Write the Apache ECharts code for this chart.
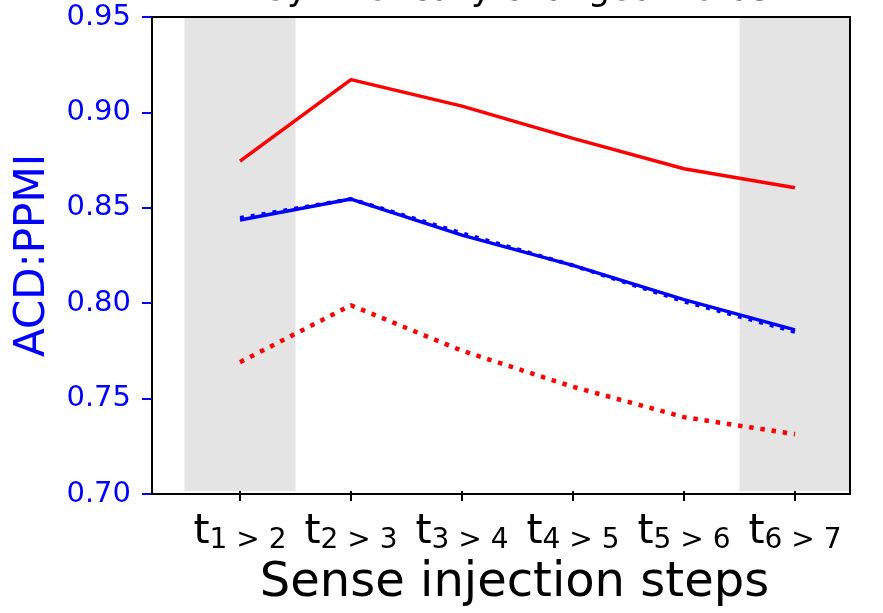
<!DOCTYPE html>
<html>
<head>
<meta charset="utf-8">
<script src="https://cdn.jsdelivr.net/npm/echarts@6/dist/echarts.min.js"></script>
<style>
  html, body { margin: 0; padding: 0; background: #fff; }
  #main { width: 883px; height: 613px; }
</style>
</head>
<body>
<div id="main"></div>
<script>
// data
var steps = ['1 > 2', '2 > 3', '3 > 4', '4 > 5', '5 > 6', '6 > 7'];
var redSolid = [0.874, 0.917, 0.903, 0.886, 0.870, 0.860];
var redDotted = [0.768, 0.798, 0.774, 0.755, 0.739, 0.730];
var blueSolid = [0.843, 0.854, 0.835, 0.819, 0.801, 0.785];
var blueDotted = [0.844, 0.854, 0.836, 0.819, 0.800, 0.784];
var shadedSteps = ['1 > 2', '6 > 7'];
var yTicks = [0.70, 0.75, 0.80, 0.85, 0.90, 0.95];

var FONT = 'DejaVu Sans';
var yMin = yTicks[0], yMax = yTicks[yTicks.length - 1];

// grey background bands, one full category wide
var bandData = steps.map(function (s) {
  return shadedSteps.indexOf(s) >= 0 ? yMax : '-';
});

var myChart = echarts.init(document.getElementById('main'));
myChart.setOption({
  animation: false,
  backgroundColor: '#fff',
  graphic: [{
    type: 'text',
    x: 517,
    y: -9,
    style: {
      text: 'Synthetically changed words',
      fill: '#000',
      font: '35px "DejaVu Sans"',
      align: 'center',
      verticalAlign: 'middle'
    }
  }],
  grid: [
    // frame + y axis
    { left: 152, right: 33, top: 17, bottom: 119, show: true, borderColor: '#000', borderWidth: 2, backgroundColor: 'transparent', z: 5 },
    // data area (category bands)
    { left: 184.5, right: 32.5, top: 17, bottom: 119 }
  ],
  xAxis: [
    { gridIndex: 0, type: 'value', show: false, min: 0, max: 1 },
    {
      gridIndex: 1,
      type: 'category',
      data: steps,
      boundaryGap: true,
      axisLine: { show: false },
      axisTick: { show: true, alignWithLabel: true, length: 10, lineStyle: { color: '#000', width: 2 } },
      axisLabel: {
        margin: 21,
        formatter: function (v) { return '{t|t}{s|' + v + '}'; },
        rich: {
          t: { fontFamily: FONT, fontSize: 41, color: '#000', verticalAlign: 'bottom', padding: [0, 0, 2, 0] },
          s: { fontFamily: FONT, fontSize: 28, color: '#000', verticalAlign: 'bottom' }
        }
      },
      name: 'Sense injection steps',
      nameLocation: 'middle',
      nameGap: 68,
      nameTextStyle: { fontFamily: FONT, fontSize: 48, color: '#000', padding: [0, 6, 0, 0] }
    }
  ],
  yAxis: [
    {
      gridIndex: 0,
      type: 'value',
      min: yMin,
      max: yMax,
      interval: 0.05,
      axisLine: { show: false },
      splitLine: { show: false },
      axisTick: { show: true, length: 10, lineStyle: { color: '#0000ff', width: 2 } },
      axisLabel: {
        margin: 21,
        color: '#0000ff',
        fontFamily: FONT,
        fontSize: 29,
        formatter: function (v) { return v.toFixed(2); }
      },
      name: 'ACD:PPMI',
      nameLocation: 'middle',
      nameGap: 98,
      nameTextStyle: { fontFamily: FONT, fontSize: 42, color: '#0000ff' }
    },
    { gridIndex: 1, type: 'value', min: yMin, max: yMax, show: false }
  ],
  series: [
    {
      type: 'bar',
      xAxisIndex: 1, yAxisIndex: 1,
      data: bandData,
      barWidth: '100%',
      clip: true,
      silent: true,
      itemStyle: { color: '#e4e4e4' },
      z: 0
    },
    {
      name: 'blue solid', type: 'line', xAxisIndex: 1, yAxisIndex: 1,
      data: blueSolid, symbol: 'none',
      lineStyle: { color: '#0000ff', width: 3.5 }
    },
    {
      name: 'blue dotted', type: 'line', xAxisIndex: 1, yAxisIndex: 1,
      data: blueDotted, symbol: 'none',
      lineStyle: { color: '#0000ff', width: 4, type: [4, 7], cap: 'butt' }
    },
    {
      name: 'red solid', type: 'line', xAxisIndex: 1, yAxisIndex: 1,
      data: redSolid, symbol: 'none',
      lineStyle: { color: '#ff0000', width: 3.5 }
    },
    {
      name: 'red dotted', type: 'line', xAxisIndex: 1, yAxisIndex: 1,
      data: redDotted, symbol: 'none',
      lineStyle: { color: '#ff0000', width: 4.5, type: [4.5, 6.8], cap: 'butt' }
    }
  ]
});
</script>
</body>
</html>
